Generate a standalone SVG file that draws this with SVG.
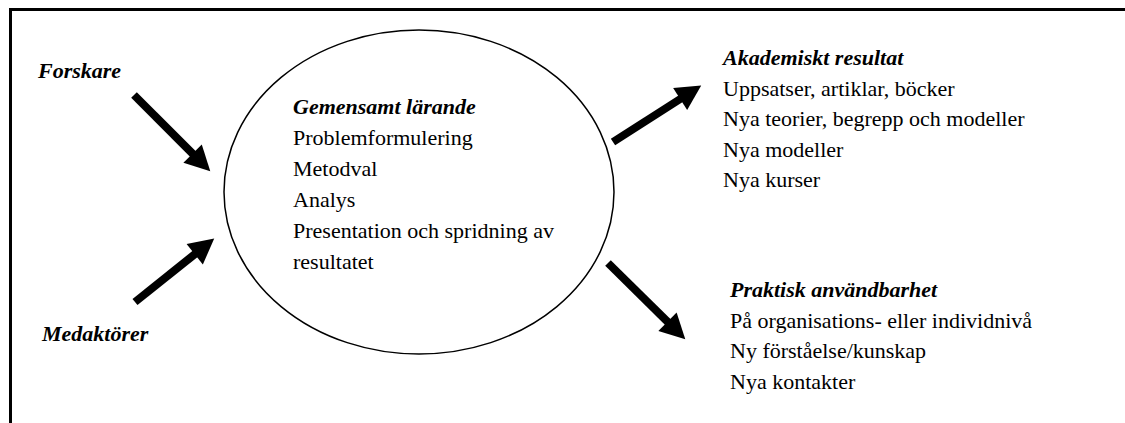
<svg xmlns="http://www.w3.org/2000/svg" width="1125" height="423" viewBox="0 0 1125 423">
<style>
text{font-family:"Liberation Serif","Times New Roman",serif;font-size:22px;fill:#000}
.h{font-weight:bold;font-style:italic}
.arr{stroke:#000;stroke-width:8;fill:none}
</style>
<defs>
<marker id="head" markerUnits="userSpaceOnUse" markerWidth="30" markerHeight="30" refX="1" refY="13" orient="auto" overflow="visible">
<path d="M0,0 L25,13 L0,26 Z" fill="#000"/>
</marker>
</defs>
<rect width="1125" height="423" fill="#fff"/>
<g id="frame">
<line x1="9" y1="9.5" x2="1125" y2="9.5" stroke="#000" stroke-width="3"/>
<line x1="10.5" y1="8" x2="10.5" y2="423" stroke="#000" stroke-width="3"/>
</g>
<g id="forskare"><text class="h" x="38" y="78">Forskare</text></g>
<g id="medaktorer"><text class="h" x="42" y="341">Medaktörer</text></g>
<g id="gemensamt">
<ellipse cx="419" cy="192" rx="195" ry="162" fill="none" stroke="#000" stroke-width="1.5"/>
<text class="h" x="293" y="114">Gemensamt lärande</text>
<text x="293" y="145">Problemformulering</text>
<text x="293" y="176">Metodval</text>
<text x="293" y="207">Analys</text>
<text x="293" y="238">Presentation och spridning av</text>
<text x="293" y="269">resultatet</text>
</g>
<g id="akademiskt">
<text class="h" x="723" y="65">Akademiskt resultat</text>
<text x="723" y="95.5">Uppsatser, artiklar, böcker</text>
<text x="723" y="126">Nya teorier, begrepp och modeller</text>
<text x="723" y="156.5">Nya modeller</text>
<text x="723" y="187">Nya kurser</text>
</g>
<g id="praktisk">
<text class="h" x="730" y="297">Praktisk användbarhet</text>
<text x="730" y="327.5">På organisations- eller individnivå</text>
<text x="730" y="358">Ny förståelse/kunskap</text>
<text x="730" y="388.5">Nya kontakter</text>
</g>
<g id="connectors">
<line class="arr" x1="134" y1="95" x2="193.3" y2="154.3" marker-end="url(#head)"/>
<line class="arr" x1="135" y1="302" x2="195.5" y2="253.6" marker-end="url(#head)"/>
<line class="arr" x1="613" y1="142" x2="681" y2="98.5" marker-end="url(#head)"/>
<line class="arr" x1="608" y1="263" x2="668.2" y2="322.4" marker-end="url(#head)"/>
</g>
</svg>
